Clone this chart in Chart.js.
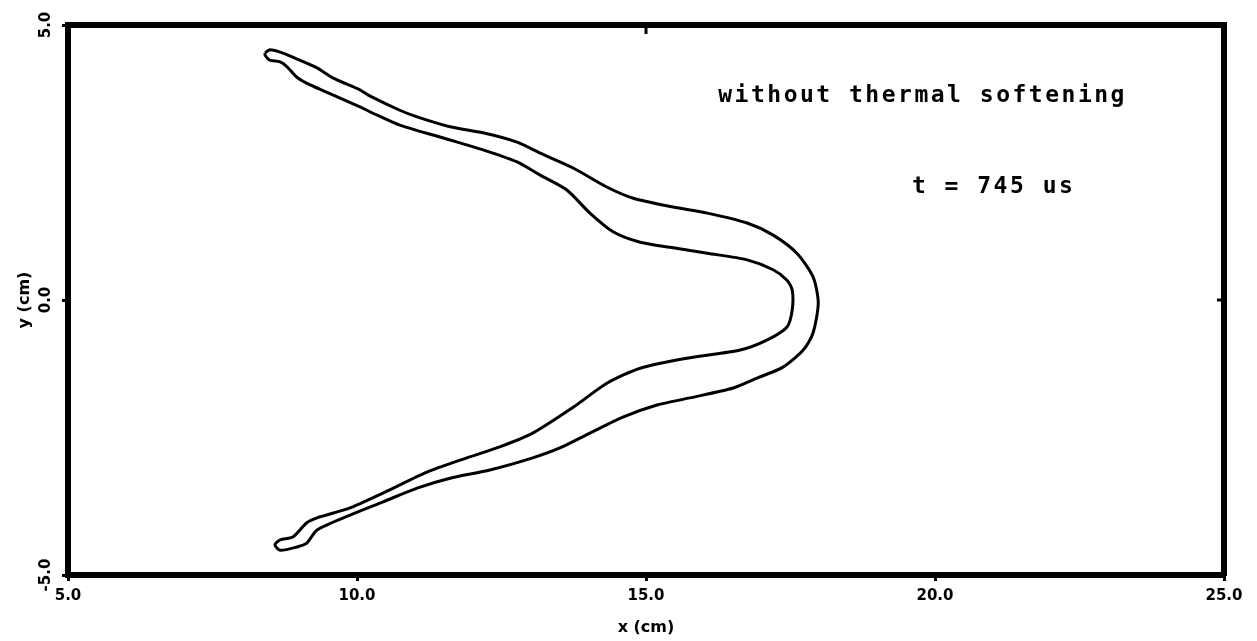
<!DOCTYPE html>
<html>
<head>
<meta charset="utf-8">
<script src="https://cdn.jsdelivr.net/npm/chart.js@4"></script>
<style>
  html, body { margin: 0; padding: 0; background: #fff; }
  canvas { display: block; }
</style>
</head>
<body>
<canvas id="contourChart" width="1257" height="641"></canvas>
<script>
// contour of the deformed plate, traced once around (upper outer edge, nose, lower arm, back inside)
const contourX = [
  8.41, 8.49, 8.72, 9.01, 9.31, 9.58, 10.05, 10.22, 10.74, 11.04, 11.61, 12.18, 12.77, 13.17,
  13.74, 14.33, 14.78, 15.47, 16.06, 16.75, 17.20, 17.61, 17.89, 17.98, 17.89, 17.72, 17.37,
  16.92, 16.51, 15.76, 15.19, 14.60, 14.03, 13.51, 13.04, 12.30, 11.61, 11.04, 10.45, 9.88,
  9.31, 9.13, 8.96, 8.67, 8.58,
  8.67, 8.89, 9.13, 9.31, 9.88, 10.45, 11.21, 11.90, 12.47, 13.04, 13.74, 14.33, 14.90, 15.76,
  16.63, 17.09, 17.44, 17.53, 17.53, 17.44, 17.20, 16.75, 16.06, 15.47, 14.90, 14.43, 14.03,
  13.63, 13.17, 12.77, 12.18, 11.61, 10.74, 10.35, 10.05, 9.58, 9.19, 8.96, 8.79, 8.67, 8.49,
  8.41, 8.41
];
const contourY = [
  4.49, 4.55, 4.49, 4.36, 4.22, 4.04, 3.82, 3.71, 3.45, 3.33, 3.15, 3.04, 2.87, 2.67,
  2.40, 2.05, 1.85, 1.69, 1.58, 1.40, 1.18, 0.85, 0.42, -0.05, -0.60, -0.91, -1.22,
  -1.42, -1.60, -1.78, -1.91, -2.13, -2.42, -2.69, -2.87, -3.09, -3.24, -3.42, -3.67, -3.91,
  -4.18, -4.42, -4.49, -4.55, -4.45,
  -4.36, -4.31, -4.05, -3.96, -3.78, -3.51, -3.13, -2.87, -2.67, -2.42, -1.95, -1.51, -1.24, -1.05,
  -0.91, -0.73, -0.49, -0.18, 0.18, 0.36, 0.55, 0.73, 0.85, 0.95, 1.05, 1.24, 1.58,
  2.00, 2.27, 2.51, 2.73, 2.91, 3.18, 3.36, 3.51, 3.73, 3.91, 4.05, 4.24, 4.33, 4.36,
  4.45, 4.49
];

const xTicks = [5, 10, 15, 20, 25];
const yTicks = [-5, 0, 5];
const noteLines = ["without thermal softening", "t = 745 us"];
const noteX = [16.25, 19.6];
const noteY = [3.6, 1.95];

const points = contourX.map((x, i) => ({ x: x, y: contourY[i] }));

// y tick labels are rotated, plus the small inward ticks on top/right and the two notes
const textPlugin = {
    id: "plotText",
    afterDraw(chart) {
        const ctx = chart.ctx;
        const xs = chart.scales.x;
        const ys = chart.scales.y;
        ctx.save();
        ctx.fillStyle = "#000";
        ctx.strokeStyle = "#000";

        ctx.font = "bold 15px 'DejaVu Sans'";
        ctx.textAlign = "center";
        ctx.textBaseline = "middle";
        yTicks.forEach(v => {
            ctx.save();
            ctx.translate(xs.left - 22, ys.getPixelForValue(v));
            ctx.rotate(-Math.PI / 2);
            ctx.fillText(v.toFixed(1), 0, 0);
            ctx.restore();
        });

        ctx.lineWidth = 3;
        ctx.beginPath();
        const px = xs.getPixelForValue(15);
        ctx.moveTo(px, ys.top);
        ctx.lineTo(px, ys.top + 9);
        const py = ys.getPixelForValue(0);
        ctx.moveTo(xs.right, py);
        ctx.lineTo(xs.right - 7, py);
        ctx.stroke();

        ctx.font = "bold 23px 'DejaVu Sans Mono'";
        ctx.letterSpacing = "2.5px";
        ctx.textAlign = "left";
        ctx.textBaseline = "alphabetic";
        noteLines.forEach((t, i) => {
            ctx.fillText(t, xs.getPixelForValue(noteX[i]), ys.getPixelForValue(noteY[i]));
        });
        ctx.restore();
    }
};

const tickFont = { family: "DejaVu Sans", size: 15, weight: "bold" };
const titleFont = { family: "DejaVu Sans", size: 16, weight: "bold" };

new Chart(document.getElementById("contourChart").getContext("2d"), {
    type: "scatter",
    data: {
        datasets: [{
            data: points,
            showLine: true,
            borderColor: "#000",
            borderWidth: 3,
            pointRadius: 0,
            tension: 0.25
        }]
    },
    options: {
        responsive: false,
        animation: false,
        layout: { padding: 0 },
        plugins: { legend: { display: false }, tooltip: { enabled: false } },
        scales: {
            x: {
                type: "linear",
                position: "bottom",
                min: 5, max: 25,
                afterBuildTicks: s => { s.ticks = xTicks.map(v => ({ value: v })); },
                afterFit: s => { s.height = 66; },
                ticks: { color: "#000", font: tickFont, padding: 6, callback: v => v.toFixed(1), maxRotation: 0 },
                grid: { display: true, drawOnChartArea: false, drawTicks: true, tickLength: 6, color: "#000", lineWidth: 3 },
                border: { display: true, color: "#000", width: 6 },
                title: { display: true, text: "x (cm)", color: "#000", font: titleFont, padding: { top: 0, bottom: 4 } }
            },
            x2: {
                type: "linear",
                position: "top",
                min: 5, max: 25,
                afterFit: s => { s.height = 25; },
                ticks: { display: false },
                grid: { display: false },
                border: { display: true, color: "#000", width: 6 }
            },
            y: {
                type: "linear",
                position: "left",
                min: -5, max: 5,
                afterBuildTicks: s => { s.ticks = yTicks.map(v => ({ value: v })); },
                afterFit: s => { s.width = 68; },
                ticks: { display: false },
                grid: { display: true, drawOnChartArea: false, drawTicks: true, tickLength: 6, color: "#000", lineWidth: 3 },
                border: { display: true, color: "#000", width: 6 },
                title: { display: true, text: "y (cm)", color: "#000", font: titleFont, padding: { top: 15, bottom: 0 } }
            },
            y2: {
                type: "linear",
                position: "right",
                min: -5, max: 5,
                afterFit: s => { s.width = 33; },
                ticks: { display: false },
                grid: { display: false },
                border: { display: true, color: "#000", width: 6 }
            }
        }
    },
    plugins: [textPlugin]
});
</script>
</body>
</html>
